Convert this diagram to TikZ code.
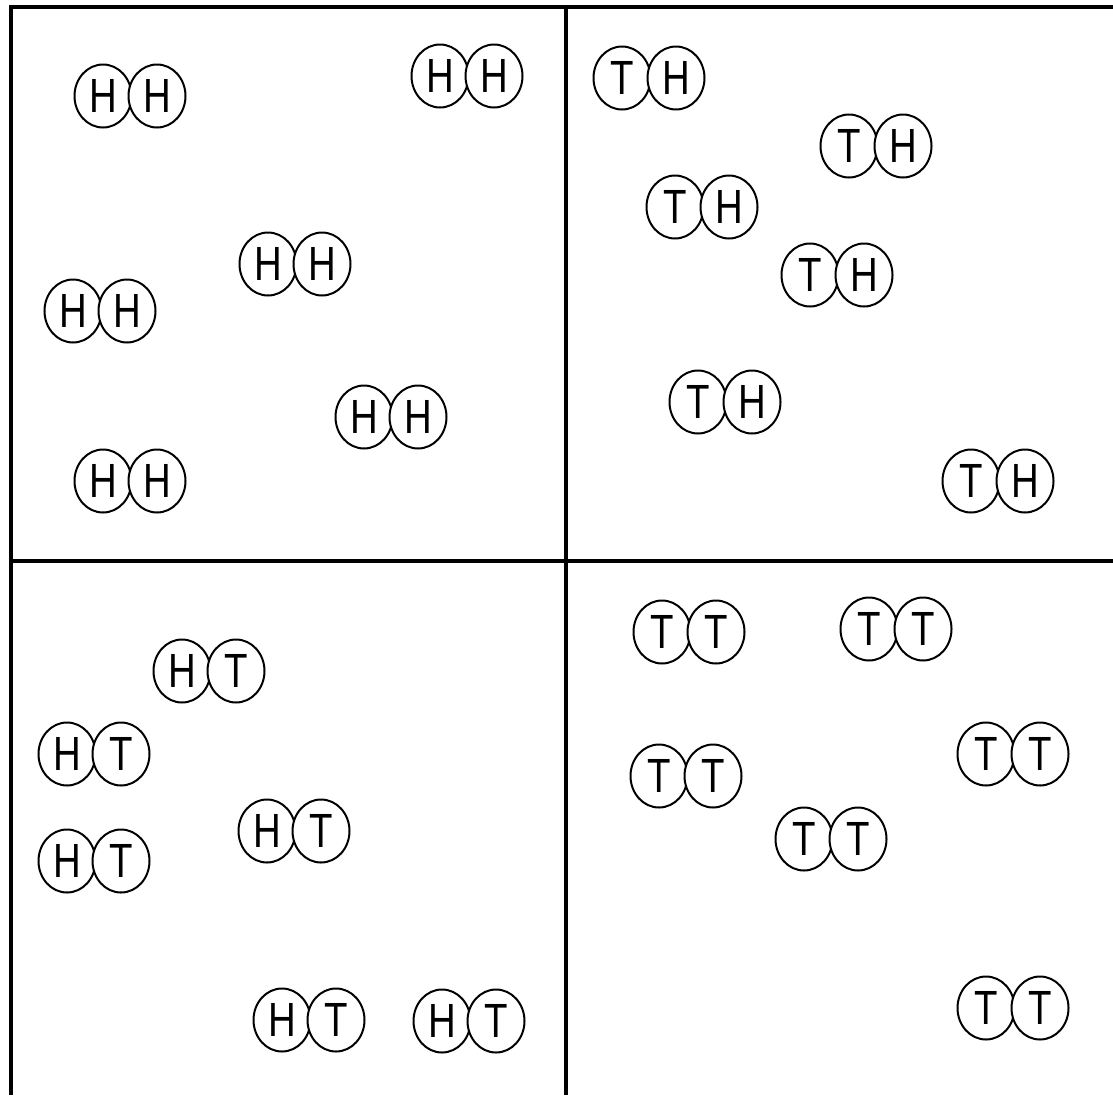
\documentclass[tikz,border=0pt]{standalone}
\usepackage{fontspec}
\setmainfont{Liberation Sans}
\newfontfamily\coinfont[FakeStretch=0.8]{Liberation Sans}
\usepackage{tikz}
\usetikzlibrary{shapes.geometric}

\begin{document}
\begin{tikzpicture}[x=1pt, y=-1pt,
    coin/.style={ellipse, draw, line width=2pt, fill=white, inner sep=0pt,
      minimum width=57pt, minimum height=63pt,
      font=\coinfont\fontsize{48}{48}\selectfont},
    frame/.style={line width=4pt}]
  \useasboundingbox (0,0) rectangle (1113,1095);
  % the four boxes: top and left edges, and the cross in the middle
  \draw[frame] (10.5,7) -- (1113,7);
  \draw[frame] (10.5,5) -- (10.5,1095);
  \draw[frame] (566,7) -- (566,1095);
  \draw[frame] (10.5,560.5) -- (1113,560.5);
  % pairs of coins; the second coin sits over the first
  \foreach \cx/\cy/\la/\lb [count=\i] in {
      130/96/H/H, 467/76/H/H, 295/264/H/H, 100/311/H/H, 391/417/H/H, 130/481/H/H,
      649/78/T/H, 876/146/T/H, 702/207/T/H, 837/275/T/H, 725/402/T/H, 998/481/T/H,
      209/671/H/T, 94/754/H/T, 294/831/H/T, 94/861/H/T, 309/1020/H/T, 469/1021/H/T,
      689/632/T/T, 896/629/T/T, 1013/754/T/T, 686/776/T/T, 831/839/T/T, 1013/1008/T/T}{
    \node[coin] (l\i) at (\cx-27,\cy) {\la};
    \node[coin] (r\i) at (\cx+27,\cy) {\lb};
  }
\end{tikzpicture}
\end{document}
